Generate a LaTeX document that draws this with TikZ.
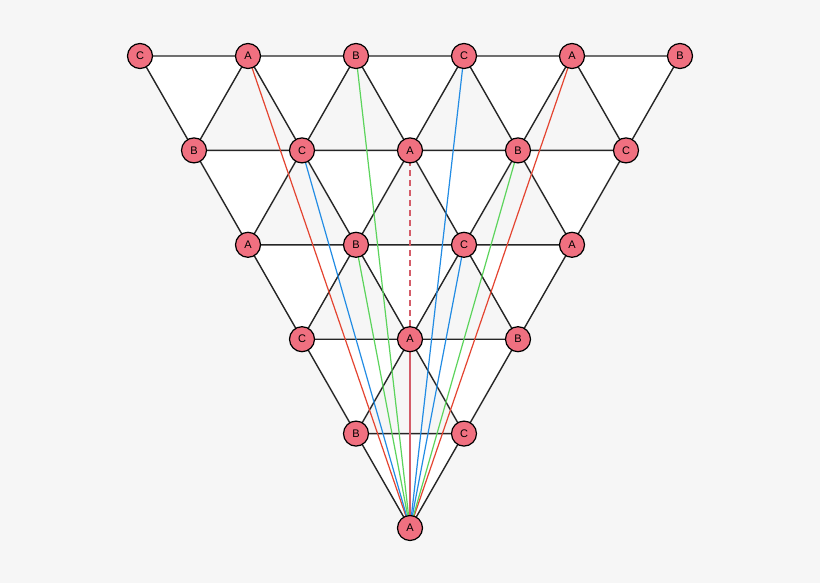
\documentclass[tikz,border=0pt]{standalone}
\usepackage{fontspec}
\setmainfont{Liberation Sans}
\usetikzlibrary{backgrounds}
\definecolor{bgc}{RGB}{246,246,246}
\definecolor{nodefill}{RGB}{240,112,128}
\definecolor{redl}{RGB}{228,68,48}
\definecolor{greenl}{RGB}{92,212,92}
\definecolor{bluel}{RGB}{34,140,228}
\definecolor{axisl}{RGB}{212,92,104}
\begin{document}
\begin{tikzpicture}[x=1pt,y=-1pt,
  site/.style={circle,draw=black,line width=1.2pt,fill=nodefill,minimum size=25pt,inner sep=0pt,font=\fontsize{11}{13}\selectfont},
  tri/.style={fill=white,draw=black!85,line width=1.4pt,line join=round},
  cline/.style={line width=1.2pt},
  axis/.style={draw=axisl,line width=2pt}]
\foreach \row [count=\i from 0] in {{C,A,B,C,A,B},{B,C,A,B,C},{A,B,C,A},{C,A,B},{B,C},{A}} {
  \foreach \lab [count=\j from 0] in \row {
    \node[site] (r\i-\j) at ({140+54*\i+108*\j},{56+94.4*\i}) {\lab};
  }
}
\begin{scope}[on background layer]
  \fill[bgc] (0,0) rectangle (820,583);
  \foreach \i/\last in {0/4,1/3,2/2,3/1,4/0} {
    \foreach \j in {0,...,\last} {
      \pgfmathtruncatemacro\jj{\j+1}
      \pgfmathtruncatemacro\ii{\i+1}
      \filldraw[tri] (r\i-\j.center) -- (r\i-\jj.center) -- (r\ii-\j.center) -- cycle;
    }
  }
  \draw[cline,redl] (r5-0.center) -- (r0-1.center);
  \draw[cline,redl] (r5-0.center) -- (r0-4.center);
  \draw[cline,greenl] (r5-0.center) -- (r0-2.center);
  \draw[cline,greenl] (r5-0.center) -- (r2-1.center);
  \draw[cline,greenl] (r5-0.center) -- (r1-3.center);
  \draw[cline,bluel] (r5-0.center) -- (r0-3.center);
  \draw[cline,bluel] (r5-0.center) -- (r1-1.center);
  \draw[cline,bluel] (r5-0.center) -- (r2-2.center);
  \draw[axis,dashed,dash pattern=on 6pt off 4pt] (r1-2.center) -- (r3-1.center);
  \draw[axis] (r3-1.center) -- (r5-0.center);
\end{scope}
\end{tikzpicture}
\end{document}
